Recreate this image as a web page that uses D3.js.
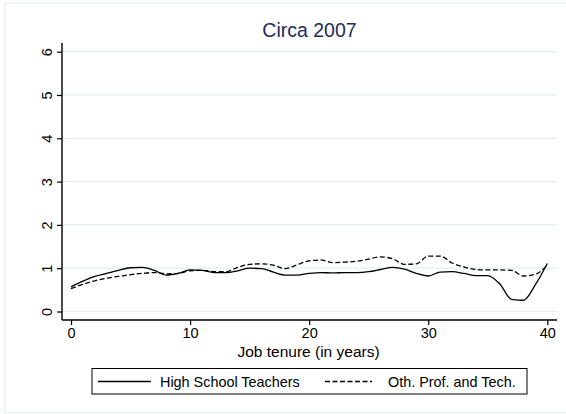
<!DOCTYPE html>
<html><head><meta charset="utf-8">
<script src="https://cdn.jsdelivr.net/npm/d3@7"></script>
<style>body{margin:0;background:#fff}svg{display:block}text{font-family:"Liberation Sans",Arial,sans-serif}</style>
</head><body>
<script>
const years = d3.range(0, 41);
const teachers = [0.57,0.70,0.81,0.88,0.95,1.01,1.02,0.95,0.84,0.88,0.96,0.95,0.90,0.90,0.94,1.00,0.99,0.91,0.84,0.84,0.88,0.90,0.89,0.90,0.90,0.92,0.97,1.02,0.98,0.88,0.82,0.91,0.92,0.88,0.83,0.83,0.64,0.28,0.26,0.62,1.11];
const othProf = [0.53,0.63,0.71,0.77,0.81,0.85,0.88,0.90,0.87,0.88,0.94,0.95,0.92,0.92,1.02,1.09,1.10,1.07,0.99,1.08,1.17,1.19,1.13,1.14,1.16,1.21,1.26,1.22,1.09,1.10,1.28,1.28,1.12,1.03,0.97,0.96,0.96,0.95,0.82,0.86,1.07];
const xTicks = [0,10,20,30,40];
const yTicks = [0,1,2,3,4,5,6];
const seriesNames = ["High School Teachers","Oth. Prof. and Tech."];
const title = "Circa 2007";
const xTitle = "Job tenure (in years)";

const W = 566, H = 414;
const svg = d3.select("body").append("svg").attr("width", W).attr("height", H);
svg.append("rect").attr("x",5).attr("y",3).attr("width",562).attr("height",409.5)
  .attr("fill","#fff").attr("stroke","#e8eded").attr("stroke-width",1.2);

const L = 62, R = 557, T = 43, B = 320;
const x = d3.scaleLinear().domain([0,40]).range([71, 547.3]);
const y = d3.scaleLinear().domain([0,6]).range([311.5, 51.7]);

// gridlines
svg.append("g").selectAll("line").data(yTicks).join("line")
  .attr("x1", L).attr("x2", R).attr("y1", d=>y(d)).attr("y2", d=>y(d))
  .attr("stroke","#e4eeee").attr("stroke-width",1.2);

// axes
const xAxis = d3.axisBottom(x).tickValues(xTicks).tickFormat(d3.format("d")).tickSize(5).tickPadding(3);
const gx = svg.append("g").attr("transform",`translate(0,${B})`).call(xAxis);
gx.select(".domain").attr("d", `M${L},0H${R}`).attr("stroke","#000").attr("stroke-width",1.4);
gx.selectAll(".tick line").attr("stroke","#000").attr("stroke-width",1.2);
gx.selectAll(".tick text").attr("font-size","14.5px").attr("fill","#000").attr("font-family","Liberation Sans, Arial, sans-serif");

const yAxis = d3.axisLeft(y).tickValues(yTicks).tickFormat(d3.format("d")).tickSize(5).tickPadding(4);
const gy = svg.append("g").attr("transform",`translate(${L},0)`).call(yAxis);
gy.select(".domain").attr("d", `M0,${T}V${B}`).attr("stroke","#000").attr("stroke-width",1.4);
gy.selectAll(".tick line").attr("stroke","#000").attr("stroke-width",1.2);
gy.selectAll(".tick text").attr("font-size","14.5px").attr("fill","#000")
  .attr("font-family","Liberation Sans, Arial, sans-serif")
  .attr("x",null).attr("dy",null)
  .attr("transform","translate(-10,0) rotate(-90)")
  .attr("text-anchor","middle").attr("dominant-baseline","auto");

// lines
const line = d3.line().x((d,i)=>x(years[i])).y(d=>y(d)).curve(d3.curveMonotoneX);
svg.append("path").datum(teachers).attr("d", line).attr("fill","none")
  .attr("stroke","#000").attr("stroke-width",1.3);
svg.append("path").datum(othProf).attr("d", line).attr("fill","none")
  .attr("stroke","#000").attr("stroke-width",1.3).attr("stroke-dasharray","5,2.5");

// title
svg.append("text").attr("x",(L+R)/2).attr("y",36.5).attr("text-anchor","middle")
  .attr("font-size","19.5px").attr("fill","#1e2c5e").text(title);
svg.append("text").attr("x",308.5).attr("y",356.5).attr("text-anchor","middle")
  .attr("font-size","15.5px").attr("fill","#000").text(xTitle);

// legend
const lg = svg.append("g");
lg.append("rect").attr("x",92).attr("y",368.5).attr("width",435).attr("height",25.5)
  .attr("fill","#fff").attr("stroke","#000").attr("stroke-width",1);
const items = [{sx:98, ex:151, tx:160, dash:null},{sx:325, ex:372, tx:388, dash:"5,2.5"}];
items.forEach((it,i)=>{
  lg.append("line").attr("x1",it.sx).attr("x2",it.ex).attr("y1",381.5).attr("y2",381.5)
    .attr("stroke","#000").attr("stroke-width",1.3).attr("stroke-dasharray",it.dash);
  lg.append("text").attr("x",it.tx).attr("y",386.7).attr("font-size","14.4px").attr("fill","#000").text(seriesNames[i]);
});
</script>
</body></html>
